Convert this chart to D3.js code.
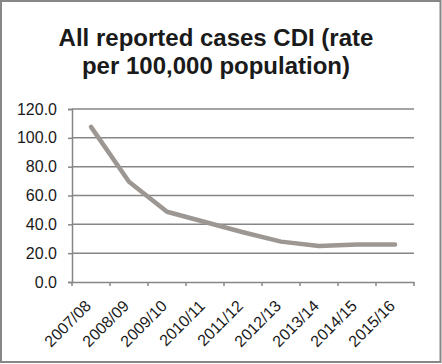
<!DOCTYPE html>
<html><head><meta charset="utf-8">
<script src="https://cdn.jsdelivr.net/npm/d3@7"></script>
<style>body{margin:0;background:#fff}svg{display:block}</style>
</head><body>
<script>
const categories = ["2007/08","2008/09","2009/10","2010/11","2011/12","2012/13","2013/14","2014/15","2015/16"];
const rates = [107.6, 69.5, 48.7, 41.6, 34.5, 28.0, 24.9, 26.0, 26.0];
const yTicks = [0, 20, 40, 60, 80, 100, 120];
const titleLines = ["All reported cases CDI (rate", "per 100,000 population)"];

const W = 442, H = 364;
const FONT = "Liberation Sans, Arial, sans-serif";
const svg = d3.select("body").append("svg").attr("width", W).attr("height", H);
svg.append("rect").attr("x",1).attr("y",1).attr("width",439.5).attr("height",361)
  .attr("fill","#fff").attr("stroke","#878787").attr("stroke-width",2);

const m = {left:72, right:414, top:109, bottom:282};
const x = d3.scaleBand().domain(categories).range([m.left, m.right]);
const y = d3.scaleLinear().domain([0,120]).range([m.bottom, m.top]);

svg.selectAll(".title").data(titleLines).enter().append("text")
  .attr("x", 216).attr("y", (d,i)=>46 + i*27.5)
  .attr("text-anchor","middle").attr("font-family",FONT)
  .attr("font-weight","bold").attr("font-size",24).attr("fill","#1a1a1a").text(d=>d);

// gridlines
svg.append("g").selectAll("line").data(yTicks.filter(d=>d>0)).enter().append("line")
  .attr("x1", m.left).attr("x2", m.right).attr("y1", d=>y(d)).attr("y2", d=>y(d))
  .attr("stroke","#868686").attr("stroke-width",1.5);

// y axis
const ya = svg.append("g").attr("transform",`translate(${m.left},0)`)
  .call(d3.axisLeft(y).tickValues(yTicks).tickFormat(d3.format(".1f")).tickSizeOuter(0).tickSize(4).tickPadding(11));
ya.selectAll("path,line").attr("stroke","#868686").attr("stroke-width",1.5);
ya.selectAll("text").attr("font-family",FONT).attr("font-size",16).attr("fill","#1a1a1a");

// x axis
const xa = svg.append("g").attr("transform",`translate(0,${m.bottom})`)
  .call(d3.axisBottom(x).tickSizeOuter(0).tickSize(0).tickFormat(""));
xa.select("path").attr("stroke","#868686").attr("stroke-width",1.5);
const edges = categories.map(c=>x(c)).concat([m.right]);
svg.append("g").selectAll("line").data(edges).enter().append("line")
  .attr("x1",d=>d).attr("x2",d=>d).attr("y1",m.bottom).attr("y2",m.bottom+4)
  .attr("stroke","#868686").attr("stroke-width",1.5);
svg.append("g").selectAll("text").data(categories).enter().append("text")
  .attr("transform", d=>`translate(${x(d)+x.bandwidth()/2+1},${m.bottom+25}) rotate(-45)`)
  .attr("text-anchor","end")
  .attr("font-family",FONT).attr("font-size",16).attr("fill","#1a1a1a")
  .text(d=>d);

// line
const line = d3.line().x((d,i)=>x(categories[i])+x.bandwidth()/2).y(d=>y(d));
svg.append("path").datum(rates).attr("d", line).attr("fill","none")
  .attr("stroke","#9c9792").attr("stroke-width",4.5).attr("stroke-linejoin","round").attr("stroke-linecap","round");
</script>
</body></html>
